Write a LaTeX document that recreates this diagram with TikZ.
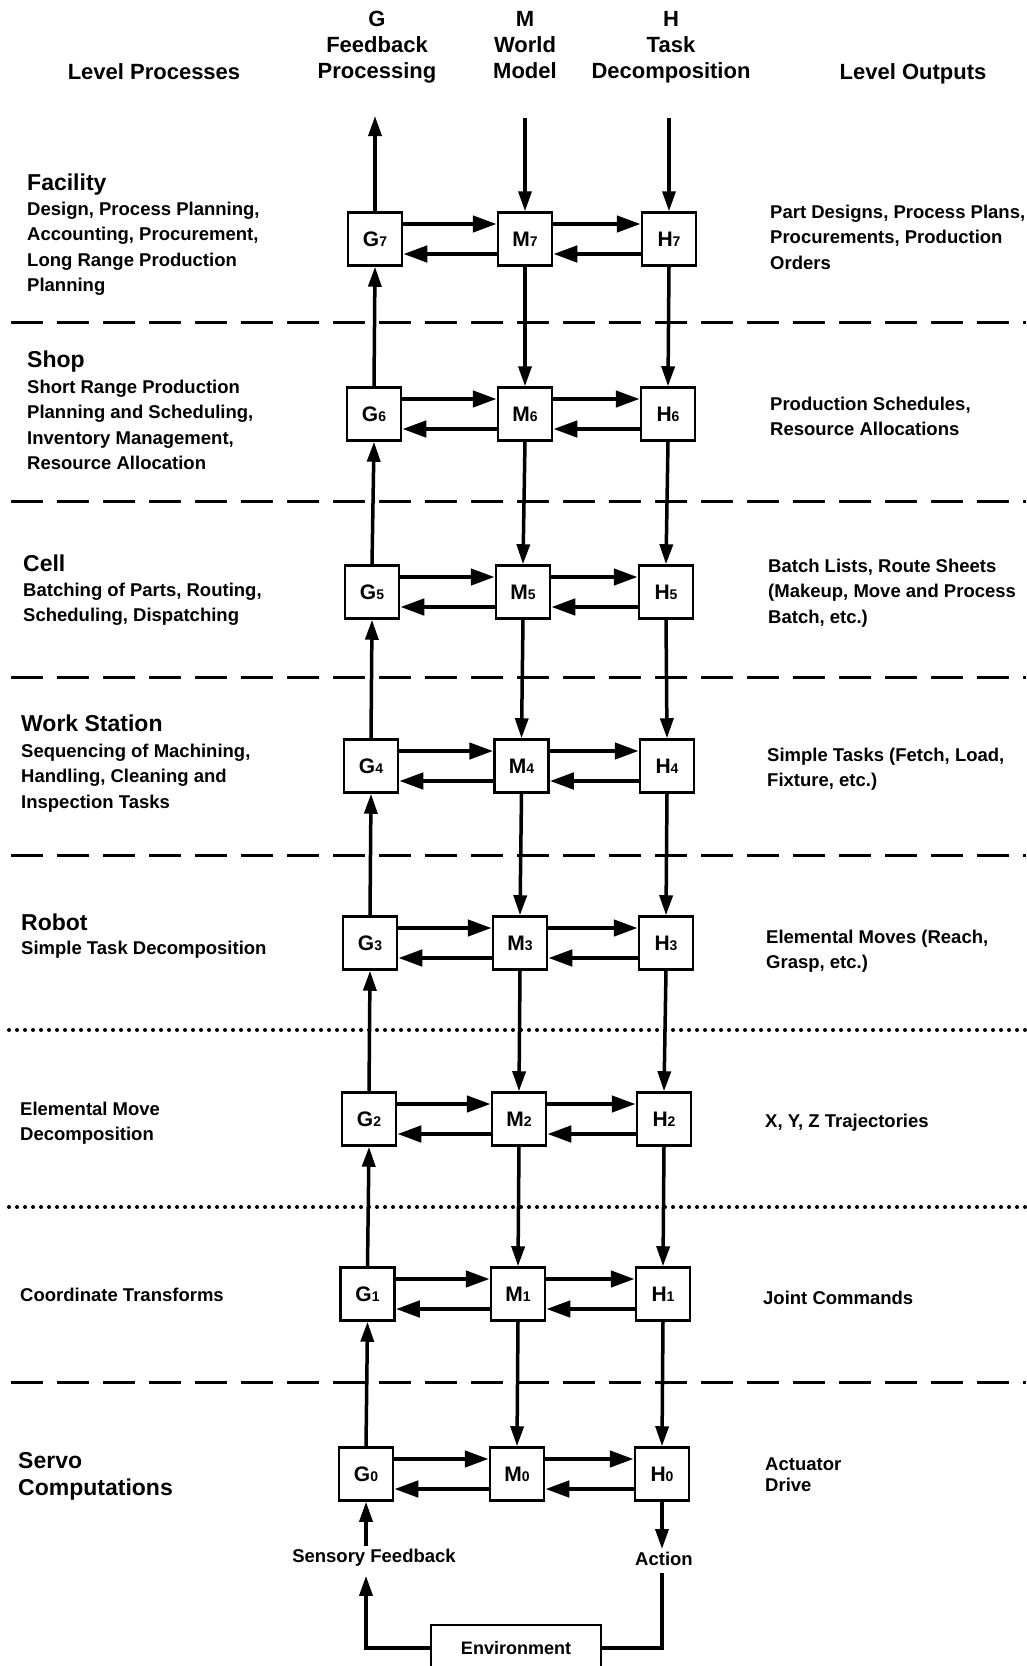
\documentclass[tikz,border=0pt]{standalone}
\usepackage{fontspec}
\setmainfont{Liberation Sans}
\usetikzlibrary{arrows.meta}
\newcommand\boxsub[1]{{\fontsize{14}{14}\selectfont #1}}
\begin{document}
\begin{tikzpicture}[x=1pt,y=-1pt,
  every node/.style={font=\bfseries},
  box/.style={draw, line width=2.5pt, minimum width=54pt, minimum height=53pt, inner sep=0pt, font=\bfseries\fontsize{21}{21}\selectfont},
  hd/.style={font=\bfseries\fontsize{22}{26}\selectfont, align=center, inner sep=0pt},
  ttl/.style={font=\bfseries\fontsize{23}{27}\selectfont, anchor=north west, inner sep=0pt, align=left},
  bdy/.style={font=\bfseries\fontsize{18.5}{25.5}\selectfont, anchor=north west, inner sep=0pt, align=left},
  lbl/.style={font=\bfseries\fontsize{18.5}{25.5}\selectfont, inner sep=3pt},
  vflow/.style={line width=3.5pt, -{Triangle[length=20pt,width=13pt]}},
  hflow/.style={line width=4.5pt, -{Triangle[length=24pt,width=16pt]}},
  vline/.style={line width=3.5pt},
  sep/.style={line width=3pt, dash pattern=on 32pt off 14pt},
  dotsep/.style={line width=4pt, line cap=round, dash pattern=on 0pt off 8pt}]
\useasboundingbox (0,0) rectangle (1026,1666);

% separators
\draw[sep] (11,322) -- (1026,322);
\draw[sep] (11,501) -- (1026,501);
\draw[sep] (11,677) -- (1026,677);
\draw[sep] (11,855) -- (1026,855);
\draw[dotsep] (9,1030) -- (1026,1030);
\draw[dotsep] (9,1207) -- (1026,1207);
\draw[sep] (11,1382) -- (1026,1382);

% column headers
\node[hd, anchor=north] (hG) at (377,11) {G\\Feedback\\Processing};
\node[hd, anchor=north] (hM) at (525,11) {M\\World\\Model};
\node[hd, anchor=north] (hH) at (671,11) {H\\Task\\Decomposition};
\node[hd, anchor=base] (hLP) at (154,79) {Level Processes};
\node[hd, anchor=base] (hLO) at (913,79) {Level Outputs};

% boxes and horizontal flows
\foreach \i/\gx/\mx/\hx/\y in {7/375/525/669/239, 6/374/525/668/414, 5/372/523/666/592, 4/371/521.5/667/766, 3/370/520/666/943, 2/369/519/664/1119, 1/367.5/518/663/1294, 0/366/517/662/1474} {
  \node[box] (G\i) at (\gx,\y) {G\boxsub{\i}};
  \node[box] (M\i) at (\mx,\y) {M\boxsub{\i}};
  \node[box] (H\i) at (\hx,\y) {H\boxsub{\i}};
  \draw[hflow] ([yshift=15pt]G\i.east) -- ([yshift=15pt]M\i.west);
  \draw[hflow] ([yshift=15pt]M\i.east) -- ([yshift=15pt]H\i.west);
  \draw[hflow] ([yshift=-15pt]H\i.west) -- ([yshift=-15pt]M\i.east);
  \draw[hflow] ([yshift=-15pt]M\i.west) -- ([yshift=-15pt]G\i.east);
}

% vertical flows between levels
\foreach \i [evaluate=\i as \j using int(\i+1)] in {0,...,6} {
  \draw[vflow] (G\i.north) -- (G\j.south);
  \draw[vflow] (M\j.south) -- (M\i.north);
  \draw[vflow] (H\j.south) -- (H\i.north);
}

% top
\coordinate (gtop) at (375,116);
\coordinate (mtop) at (525,118);
\coordinate (htop) at (669,118);
\draw[vflow] (G7.north) -- (gtop);
\draw[vflow] (mtop) -- (M7.north);
\draw[vflow] (htop) -- (H7.north);

% bottom
\node[lbl] (sf) at (374,1558) {Sensory Feedback};
\node[lbl] (act) at (664,1559) {Action};
\node[draw, line width=2.5pt, minimum width=170pt, minimum height=46pt, inner sep=0pt, font=\bfseries\fontsize{18}{18}\selectfont] (env) at (516,1648) {Environment};
\draw[vflow] (sf.north -| G0.south) -- (G0.south);
\draw[vflow] (H0.south) -- (act.north -| H0.south);
\draw[vflow, shorten >=6pt] (env.west) -| (sf.south -| G0.south);
\draw[vline, shorten <=4pt] (act.south -| H0.south) |- (env.east);

% left texts
\node[ttl] (tF) at (27,173.8) {Facility};
\node[bdy] (bF) at (27,201.4) {Design, Process Planning,\\Accounting, Procurement,\\Long Range Production\\Planning};
\node[ttl] (tS) at (27,350.8) {Shop};
\node[bdy] (bS) at (27,379.4) {Short Range Production\\Planning and Scheduling,\\Inventory Management,\\Resource Allocation};
\node[ttl] (tC) at (23,554.8) {Cell};
\node[bdy] (bC) at (23,582.4) {Batching of Parts, Routing,\\Scheduling, Dispatching};
\node[ttl] (tW) at (21,714.8) {Work Station};
\node[bdy] (bW) at (21,743.4) {Sequencing of Machining,\\Handling, Cleaning and\\Inspection Tasks};
\node[ttl] (tR) at (21,913.8) {Robot};
\node[bdy] (bR) at (21,940.4) {Simple Task Decomposition};
\node[bdy] (bE) at (20,1101.4) {Elemental Move\\Decomposition};
\node[bdy] (bT) at (20,1287.4) {Coordinate Transforms};
\node[ttl] (tV) at (18,1451.8) {Servo\\Computations};

% right texts
\node[bdy] (o7) at (770,204.4) {Part Designs, Process Plans,\\Procurements, Production\\Orders};
\node[bdy] (o6) at (770,396.4) {Production Schedules,\\Resource Allocations};
\node[bdy] (o5) at (768,558.4) {Batch Lists, Route Sheets\\(Makeup, Move and Process\\Batch, etc.)};
\node[bdy] (o4) at (767,747.4) {Simple Tasks (Fetch, Load,\\Fixture, etc.)};
\node[bdy] (o3) at (766,929.4) {Elemental Moves (Reach,\\Grasp, etc.)};
\node[bdy] (o2) at (765,1113.4) {X, Y, Z Trajectories};
\node[bdy] (o1) at (763,1290.4) {Joint Commands};
\node[bdy, font=\bfseries\fontsize{18.5}{21}\selectfont] (o0) at (765,1457.4) {Actuator\\Drive};
\end{tikzpicture}
\end{document}
